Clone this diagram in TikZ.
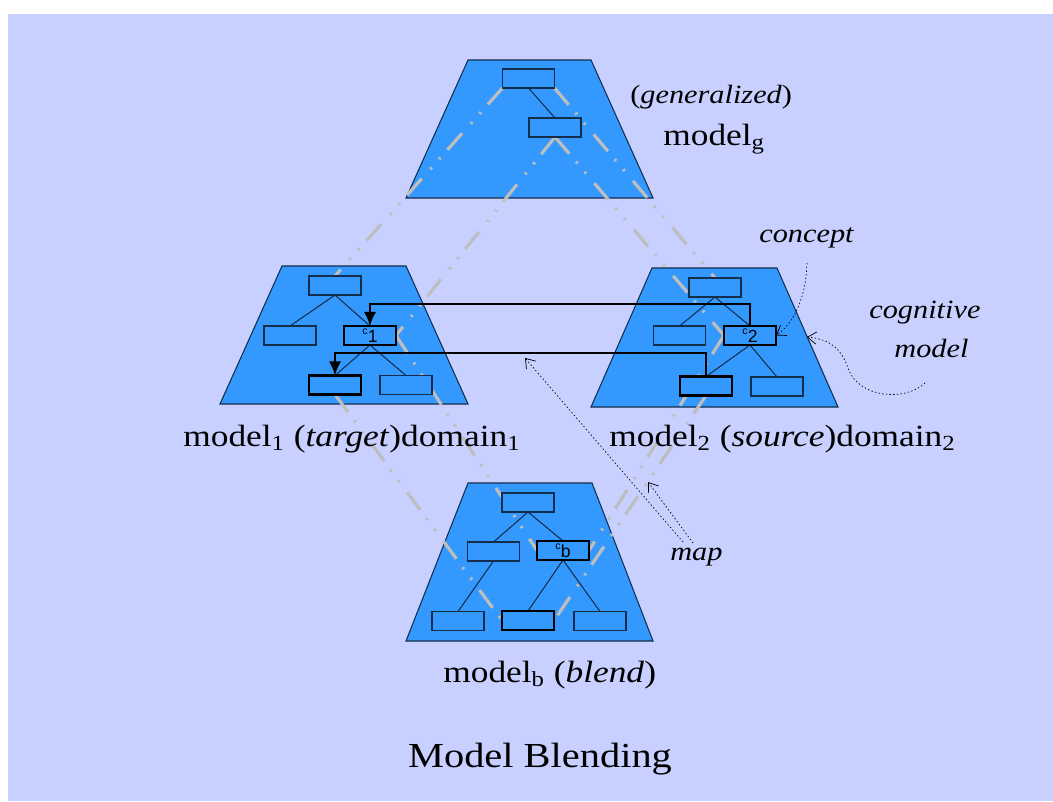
\documentclass[tikz,border=0pt]{standalone}
\usepackage{fontspec}
\setmainfont{Liberation Serif}[FakeStretch=1.15]
\setsansfont{Liberation Sans}
\usetikzlibrary{arrows.meta}
\definecolor{bgblue}{RGB}{200,208,255}
\definecolor{tblue}{RGB}{51,153,255}
\definecolor{edgec}{RGB}{20,45,75}
\definecolor{mapgray}{RGB}{190,190,190}
\pgfdeclarelayer{bg}
\pgfdeclarelayer{mid}
\pgfsetlayers{bg,mid,main}
\tikzset{
  box/.style={draw=edgec, line width=0.6pt, fill=tblue, minimum width=1.04cm, minimum height=0.38cm, inner sep=0pt, outer sep=0pt},
  cbox/.style={box, draw=black, line width=1.3pt},
  trap/.style={draw=edgec, line width=0.6pt, fill=tblue},
  tree/.style={draw=edgec, line width=0.6pt},
  gmap/.style={draw=mapgray, line width=1.8pt, dash pattern=on 12.5pt off 6pt on 1.2pt off 6.3pt on 1.2pt off 7.4pt},
  conn/.style={draw=black, line width=1.2pt, -{Latex[length=8pt,width=7pt]}},
  note/.style={draw=black, line width=0.4pt, dash pattern=on 0.8pt off 1.3pt, -{Straight Barb[length=5pt,width=7pt]}},
  lab/.style={font=\fontsize{17.5}{21}\selectfont, inner sep=0pt, anchor=base west},
  ital/.style={font=\fontsize{15}{18}\selectfont\itshape, inner sep=0pt, anchor=base west},
  ctext/.style={font=\sffamily, inner sep=0pt}
}
\newcommand{\csub}[1]{{\fontsize{6}{6}\selectfont\raisebox{3.2pt}{c}}{\fontsize{10}{10}\selectfont\raisebox{-1.5pt}{#1}}}
\begin{document}
\begin{tikzpicture}[x=0.02cm,y=-0.02cm]
\useasboundingbox (0,0) rectangle (1053,801);
\begin{pgfonlayer}{bg}
\fill[white] (0,0) rectangle (1053,801);
\fill[bgblue] (8,14) rectangle (1053,801);
\draw[trap] (468,60) -- (591,60) -- (653,198) -- (406,198) -- cycle;
\draw[trap] (282,266) -- (406,266) -- (468,404) -- (220,404) -- cycle;
\draw[trap] (652,268) -- (777,268) -- (838,407) -- (591,407) -- cycle;
\draw[trap] (468,483) -- (592,483) -- (653,641) -- (406,641) -- cycle;
\end{pgfonlayer}

% generalized model
\node[box] (gA) at (528.5,78.5) {};
\node[box] (gB) at (555,127.5) {};
% left model
\node[box] (lT) at (335,285.5) {};
\node[box] (lL) at (290,335.5) {};
\node[cbox,ctext] (c1) at (370,335.5) {\csub{1}};
\node[cbox] (lBL) at (335,385) {};
\node[box] (lBR) at (406,385) {};
% right model
\node[box] (rT) at (715,287.5) {};
\node[box] (rL) at (679.5,335.5) {};
\node[cbox,ctext] (c2) at (750,335.5) {\csub{2}};
\node[cbox] (rBL) at (706,386) {};
\node[box] (rBR) at (777,386.5) {};
% blend model
\node[box] (bT) at (528,502.5) {};
\node[box] (bL) at (493.5,551.5) {};
\node[cbox,ctext] (cb) at (563,550.5) {\csub{b}};
\node[box] (bBL) at (458,621) {};
\node[cbox] (bBM) at (528,620.5) {};
\node[box] (bBR) at (600,621) {};

\begin{pgfonlayer}{mid}
% tree edges
\draw[tree] (gA.south) -- (gB.north);
\draw[tree] (lT.south) -- (lL.north);
\draw[tree] (lT.south) -- (c1.north);
\draw[tree] (c1.south) -- (lBL.north);
\draw[tree] (c1.south) -- (lBR.north);
\draw[tree] (rT.south) -- (rL.north);
\draw[tree] (rT.south) -- (c2.north);
\draw[tree] (c2.south) -- (rBL.north);
\draw[tree] (c2.south) -- (rBR.north);
\draw[tree] (bT.south) -- (bL.north);
\draw[tree] (bT.south) -- (cb.north);
\draw[tree] (bL.south) -- (bBL.north);
\draw[tree] (cb.south) -- (bBM.north);
\draw[tree] (cb.south) -- (bBR.north);
% gray mapping lines
\draw[gmap] (gA.south west) -- (lT.north);
\draw[gmap] (gA.south east) -- (rT.north);
\draw[gmap] (gB.south) -- (c1.east);
\draw[gmap] (gB.south) -- (c2.west);
\draw[gmap] (c1.east) -- (cb.west);
\draw[gmap] (c2.west) -- (cb.east);
\draw[gmap] (lBL.south) -- (bBM.west);
\draw[gmap] (rBL.south) -- (bBM.east);
\end{pgfonlayer}

% black connectors
\coordinate (u) at (560,304);
\coordinate (w) at (520,353);
\draw[conn] (c2.north) |- (u) -| (c1.north);
\draw[conn] (rBL.north) |- (w) -| (lBL.north);

% labels
\node[ital, font=\fontsize{15}{18}\selectfont] (gen) at (630,103) {(\textit{generalized})};
\node[lab] (mg) at (663,145) {model\textsubscript{g}};
\node[ital] (concept) at (759,242) {concept};
\node[ital] (cog1) at (869,318) {cognitive};
\node[ital] (cog2) at (894,357) {model};
\node[lab] (m1) at (183,446) {model\textsubscript{1} (\textit{target})domain\textsubscript{1}};
\node[lab] (m2) at (609,446) {model\textsubscript{2} (\textit{source})domain\textsubscript{2}};
\node[ital] (map) at (670,560) {map};
\node[lab] (mb) at (443,682) {model\textsubscript{b} (\textit{blend})};
\node[font=\fontsize{20}{24}\selectfont, inner sep=0pt, anchor=base] (title) at (540,767) {Model Blending};

% annotation arrows
\coordinate (cp) at (807,263);
\coordinate (cm) at (925,383);
\coordinate (redge) at (807,337);
\coordinate (ma) at (683,542);
\coordinate (mat) at (525,358);
\coordinate (mb2) at (693,543);
\coordinate (mbt) at (648,482);
\draw[note] (cp) .. controls (806,300) and (792,325) .. (c2.east);
\draw[note] (cm) .. controls (905,402) and (858,398) .. (848,368) .. controls (840,345) and (826,339) .. (redge);
\draw[note] (ma) -- (mat);
\draw[note] (mb2) -- (mbt);
\end{tikzpicture}
\end{document}
